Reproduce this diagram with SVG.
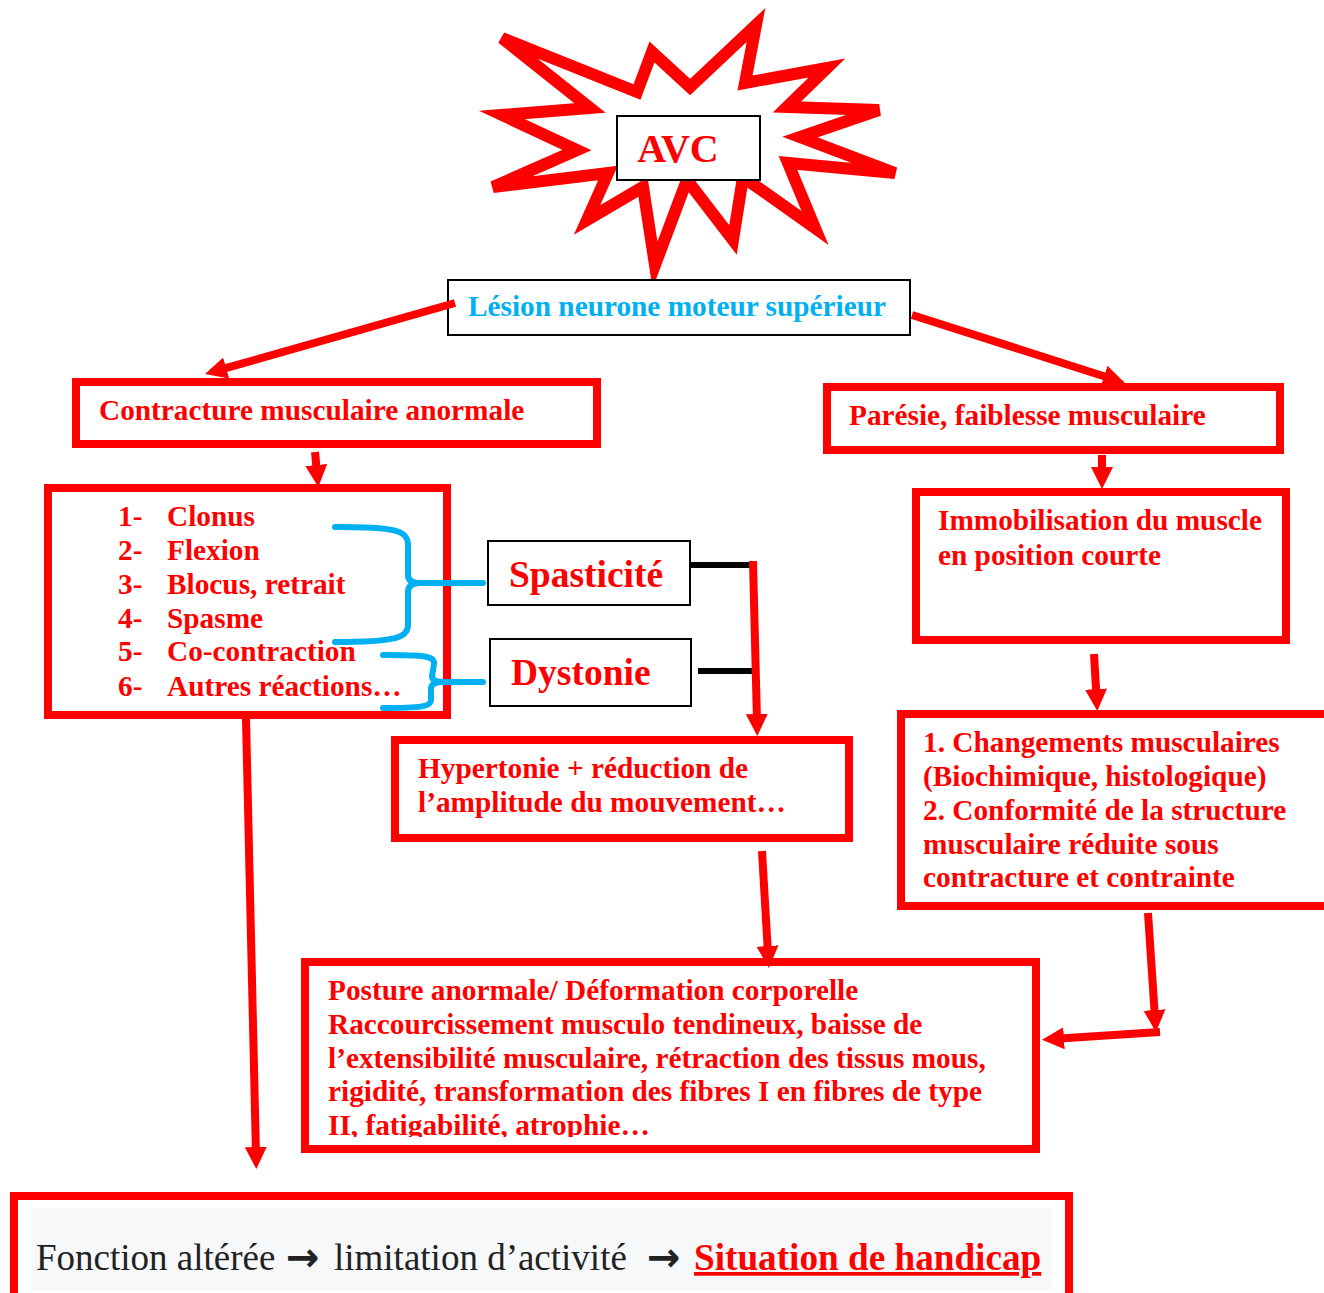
<svg xmlns="http://www.w3.org/2000/svg" width="1324" height="1293" viewBox="0 0 1324 1293">
<style>
.t{font-family:"Liberation Serif","Times New Roman",serif;font-weight:bold;fill:#ff0000;font-size:29.3px}
.big{font-size:37.5px}
.blue{fill:#00b0f0}
.rbox{fill:#ffffff;stroke:#ff0000;stroke-width:8}
.kbox{fill:#ffffff;stroke:#000000;stroke-width:2}
.arr{fill:none;stroke:#ff0000;stroke-width:8;marker-end:url(#ah)}
.blk{stroke:#000000;stroke-width:6;fill:none}
.brace{fill:none;stroke:#00b0f0;stroke-width:6;stroke-linecap:round;stroke-linejoin:round}
.ft{font-family:"Liberation Serif","Times New Roman",serif;font-size:37px;fill:#222222}
.fa{font-family:"DejaVu Sans",sans-serif;font-weight:bold;font-size:40px;fill:#222222}
</style>
<defs>
<marker id="ah" markerUnits="userSpaceOnUse" markerWidth="24" markerHeight="24" refX="8" refY="12" orient="auto">
<path d="M0,1 L22,12 L0,23 z" fill="#ff0000"/>
</marker>
<clipPath id="pclip"><rect x="305" y="962" width="731" height="175"/></clipPath>
</defs>
<rect width="1324" height="1293" fill="#ffffff"/>

<g id="avc">
<polygon points="502,38 637,92 652,52 690,87 756,25 745,83 827,68 787,107 879,110 800,137 895,173 788,163 815,228 743,177 733,240 687,180 655,265 643,187 587,220 608,173 493,187 577,150 502,115 590,108" fill="#ffffff" stroke="#ff0000" stroke-width="12" stroke-linejoin="miter"/>
<rect class="kbox" x="617" y="116" width="143" height="64"/>
<text class="t" x="678" y="162" text-anchor="middle" style="font-size:40px">AVC</text>
</g>

<g id="lesion">
<rect class="kbox" x="448" y="280" width="462" height="55"/>
<text class="t blue" x="468" y="316">Lésion neurone moteur supérieur</text>
</g>

<g id="contracture">
<rect class="rbox" x="76" y="382" width="521" height="62"/>
<text class="t" x="99" y="420">Contracture musculaire anormale</text>
</g>

<g id="paresie">
<rect class="rbox" x="827" y="387" width="453" height="63"/>
<text class="t" x="849" y="425">Parésie, faiblesse musculaire</text>
</g>

<g id="liste">
<rect class="rbox" x="48" y="488" width="399" height="227"/>
<text class="t"><tspan x="118" y="526">1-</tspan><tspan x="167" y="526">Clonus</tspan>
<tspan x="118" y="560">2-</tspan><tspan x="167" y="560">Flexion</tspan>
<tspan x="118" y="594">3-</tspan><tspan x="167" y="594">Blocus, retrait</tspan>
<tspan x="118" y="628">4-</tspan><tspan x="167" y="628">Spasme</tspan>
<tspan x="118" y="661">5-</tspan><tspan x="167" y="661">Co-contraction</tspan>
<tspan x="118" y="696">6-</tspan><tspan x="167" y="696">Autres réactions…</tspan></text>
</g>

<g id="spasticite">
<rect class="kbox" x="488" y="541" width="202" height="64"/>
<text class="t big" x="509" y="587">Spasticité</text>
</g>

<g id="dystonie">
<rect class="kbox" x="490" y="639" width="201" height="67"/>
<text class="t big" x="511" y="685">Dystonie</text>
</g>

<g id="hypertonie">
<rect class="rbox" x="395" y="740" width="454" height="98"/>
<text class="t"><tspan x="418" y="778">Hypertonie + réduction de</tspan><tspan x="418" y="812">l’amplitude du mouvement…</tspan></text>
</g>

<g id="immobilisation">
<rect class="rbox" x="916" y="492" width="370" height="148"/>
<text class="t"><tspan x="938" y="530">Immobilisation du muscle</tspan><tspan x="938" y="565">en position courte</tspan></text>
</g>

<g id="changements">
<rect class="rbox" x="901" y="714" width="440" height="192"/>
<text class="t"><tspan x="923" y="752">1. Changements musculaires</tspan><tspan x="923" y="786">(Biochimique, histologique)</tspan><tspan x="923" y="820">2. Conformité de la structure</tspan><tspan x="923" y="854">musculaire réduite sous</tspan><tspan x="923" y="887">contracture et contrainte</tspan></text>
</g>

<g id="posture">
<rect class="rbox" x="305" y="962" width="731" height="187"/>
<text class="t" clip-path="url(#pclip)"><tspan x="328" y="1000">Posture anormale/ Déformation corporelle</tspan><tspan x="328" y="1034">Raccourcissement musculo tendineux, baisse de</tspan><tspan x="328" y="1068">l’extensibilité musculaire, rétraction des tissus mous,</tspan><tspan x="328" y="1101">rigidité, transformation des fibres I en fibres de type</tspan><tspan x="328" y="1135">II, fatigabilité, atrophie…</tspan></text>
</g>

<g id="fonction">
<rect class="rbox" x="14" y="1196" width="1055" height="104"/>
<rect x="32" y="1208" width="1020" height="82" fill="#f7f8fa"/>
<text class="ft" x="36" y="1270">Fonction altérée</text>
<text class="fa" x="286" y="1271">→</text>
<text class="ft" x="334" y="1270">limitation d’activité</text>
<text class="fa" x="647" y="1271">→</text>
<text class="ft" x="694" y="1270" style="font-weight:bold;fill:#ff0000;font-size:37.2px;text-decoration:underline">Situation de handicap</text>
</g>

<g id="connectors">
<line class="arr" x1="455" y1="303" x2="218.5" y2="370.2"/>
<line class="arr" x1="912" y1="315" x2="1111.7" y2="378.7"/>
<line class="arr" x1="315" y1="452" x2="317" y2="473"/>
<line class="arr" x1="1102" y1="455" x2="1102" y2="475"/>
<line class="blk" x1="690" y1="565" x2="752" y2="565"/>
<line class="blk" x1="698" y1="671" x2="752" y2="671"/>
<line class="arr" x1="753" y1="561" x2="757" y2="722"/>
<line class="arr" x1="762" y1="851" x2="768" y2="954"/>
<line class="arr" x1="1094" y1="654" x2="1096.5" y2="697"/>
<line class="arr" x1="1148" y1="913" x2="1155" y2="1018"/>
<line class="arr" x1="1160" y1="1032" x2="1056" y2="1038.8"/>
<line class="arr" x1="246" y1="719" x2="256" y2="1155"/>
<path class="brace" d="M335,527 C395,527 408,530 408,545 L408,575 C408,580 412,583 420,583 L483,583 M420,583 C412,583 408,586 408,592 L408,625 C408,638 395,642 335,642"/>
<path class="brace" d="M383,655 C425,655 435,656 434,664 L432,676 C432,680 436,682 443,682 L483,682 M443,682 C436,682 431,684 431,689 L431,700 C431,707 420,708 383,708"/>
</g>
</svg>
